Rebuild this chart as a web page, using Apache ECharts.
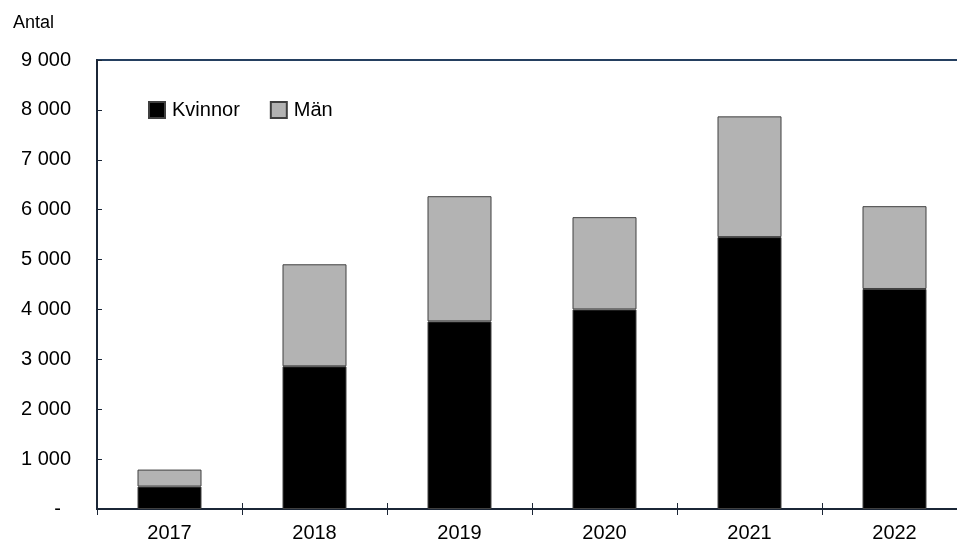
<!DOCTYPE html>
<html>
<head>
<meta charset="utf-8">
<script src="https://cdn.jsdelivr.net/npm/echarts@6/dist/echarts.min.js"></script>
<style>
  html, body { margin: 0; padding: 0; background: #fff; overflow: hidden; }
  #chart { width: 957px; height: 543px; }
</style>
</head>
<body>
<div id="chart"></div>
<script>
// data
const years = [ '2017', '2018', '2019', '2020', '2021', '2022' ];
const kvinnor = [ 450, 2860, 3760, 4000, 5450, 4410 ];
const man = [ 340, 2045, 2510, 1850, 2420, 1660 ];

const font = 'Liberation Sans, Arial, sans-serif';
const axisColor = '#1b2636';

function fmt( v ) {
	if ( v === 0 ) return '{dash|-}';
	return String( v ).replace( /\B(?=(\d{3})+(?!\d))/g, ' ' );
}

const chart = echarts.init( document.getElementById( 'chart' ), null, { renderer: 'canvas' } );

chart.setOption( {
	animation: false,
	title: {
		text: 'Antal',
		left: 8,
		top: 9,
		textStyle: { fontFamily: font, fontSize: 18, fontWeight: 'normal', color: '#000' }
	},
	legend: {
		data: [ 'Kvinnor', 'Män' ],
		left: 148,
		top: 100,
		padding: 0,
		itemWidth: 16,
		itemHeight: 16,
		itemGap: 30,
		icon: 'rect',
		textStyle: { fontFamily: font, fontSize: 20, color: '#000', padding: [ 3, 0, 0, 2 ] }
	},
	// plot runs past the right edge of the page, as in the original
	grid: {
		left: 97,
		width: 870,
		top: 60,
		height: 449,
		outerBoundsMode: 'none',
		show: true,
		borderColor: '#243f60',
		borderWidth: 2
	},
	xAxis: [
		{
			type: 'category',
			data: years,
			axisLine: { lineStyle: { color: axisColor, width: 2 } },
			axisTick: { show: true, length: 6, lineStyle: { color: axisColor } },
			axisLabel: { fontFamily: font, fontSize: 20, color: '#000', margin: 14 }
		},
		{
			type: 'category',
			data: years,
			position: 'bottom',
			axisLine: { show: false },
			axisTick: { show: true, inside: true, length: 6, lineStyle: { color: axisColor } },
			axisLabel: { show: false }
		}
	],
	yAxis: {
		type: 'value',
		min: 0,
		max: 9000,
		interval: 1000,
		axisLine: { show: true, lineStyle: { color: axisColor, width: 2 } },
		axisTick: { show: true, inside: true, length: 5, lineStyle: { color: axisColor } },
		splitLine: { show: false },
		axisLabel: {
			fontFamily: font,
			fontSize: 20,
			color: '#000',
			margin: 26,
			formatter: fmt,
			rich: { dash: { fontFamily: font, fontSize: 20, color: '#000', padding: [ 0, 10, 0, 0 ] } }
		}
	},
	series: [
		{
			name: 'Kvinnor',
			type: 'bar',
			stack: 'total',
			data: kvinnor,
			barWidth: 64,
			itemStyle: { color: '#000000', borderColor: '#404040', borderWidth: 1 }
		},
		{
			name: 'Män',
			type: 'bar',
			stack: 'total',
			data: man,
			barWidth: 64,
			itemStyle: { color: '#b3b3b3', borderColor: '#404040', borderWidth: 1 }
		}
	]
} );
</script>
</body>
</html>
